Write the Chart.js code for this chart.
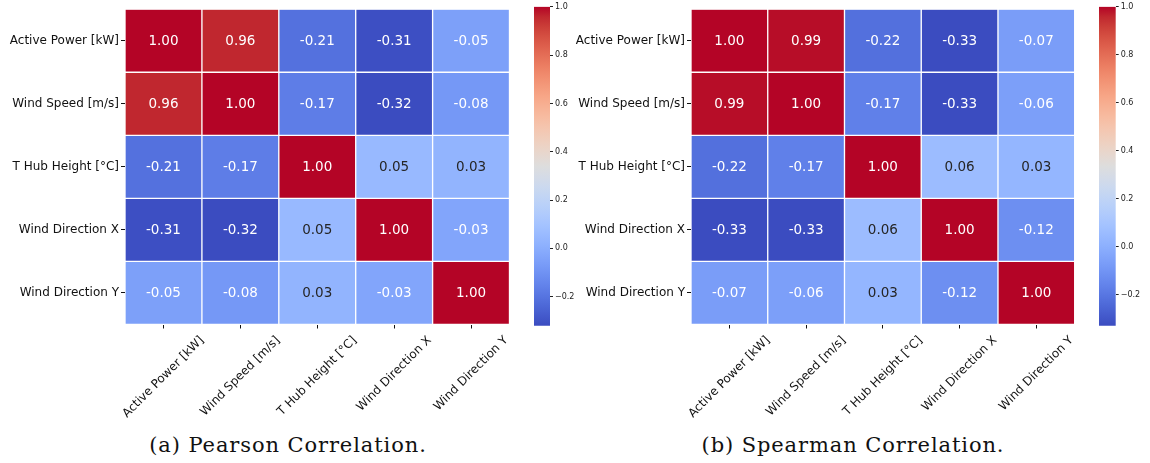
<!DOCTYPE html>
<html>
<head>
<meta charset="utf-8">
<script src="https://cdn.jsdelivr.net/npm/chart.js@4.4.1/dist/chart.umd.min.js"></script>
<style>
  html, body { margin: 0; padding: 0; background: #fff; }
  #wrap { position: relative; width: 1150px; height: 463px; overflow: hidden; }
  canvas { position: absolute; top: 0; }
  .caption {
    position: absolute; top: 435px; transform: translateX(-50%);
    font-family: "DejaVu Serif", serif; font-size: 21px; line-height: 21px;
    letter-spacing: 0.9px; color: #111; white-space: nowrap;
  }
</style>
</head>
<body>
<div id="wrap">
  <canvas id="heatA" width="520" height="420" style="left:0"></canvas>
  <canvas id="barA" width="60" height="340" style="left:520px"></canvas>
  <canvas id="heatB" width="520" height="420" style="left:566px"></canvas>
  <canvas id="barB" width="60" height="340" style="left:1085px"></canvas>
  <div class="caption" style="left:288px">(a) Pearson Correlation.</div>
  <div class="caption" style="left:853px">(b) Spearman Correlation.</div>
</div>
<script>
const VARS = ["Active Power [kW]", "Wind Speed [m/s]", "T Hub Height [°C]", "Wind Direction X", "Wind Direction Y"];

const PEARSON = [
  [1.00, 0.96, -0.21, -0.31, -0.05],
  [0.96, 1.00, -0.17, -0.32, -0.08],
  [-0.21, -0.17, 1.00, 0.05, 0.03],
  [-0.31, -0.32, 0.05, 1.00, -0.03],
  [-0.05, -0.08, 0.03, -0.03, 1.00]
];

const SPEARMAN = [
  [1.00, 0.99, -0.22, -0.33, -0.07],
  [0.99, 1.00, -0.17, -0.33, -0.06],
  [-0.22, -0.17, 1.00, 0.06, 0.03],
  [-0.33, -0.33, 0.06, 1.00, -0.12],
  [-0.07, -0.06, 0.03, -0.12, 1.00]
];

const CBAR_TICKS = [-0.2, 0.0, 0.2, 0.4, 0.6, 0.8, 1.0];

// matplotlib "coolwarm", 33 evenly spaced samples
const COOLWARM = [
  [59, 76, 192], [68, 90, 204], [77, 104, 215], [87, 117, 225], [98, 130, 234],
  [108, 142, 241], [119, 154, 247], [130, 165, 251], [141, 176, 254], [152, 185, 255],
  [163, 194, 255], [174, 201, 253], [184, 208, 249], [194, 213, 244], [204, 217, 238],
  [213, 219, 230], [221, 221, 221], [229, 216, 209], [236, 211, 197], [241, 204, 185],
  [245, 196, 173], [247, 187, 160], [247, 177, 148], [247, 166, 135], [244, 154, 123],
  [241, 141, 111], [236, 127, 99], [229, 112, 88], [222, 96, 77], [213, 80, 66],
  [203, 62, 56], [192, 40, 47], [180, 4, 38]
];

Chart.defaults.font.family = "'DejaVu Sans', sans-serif";

function coolwarm(t) {
  t = Math.min(1, Math.max(0, t));
  const pos = t * (COOLWARM.length - 1);
  const k = Math.min(Math.floor(pos), COOLWARM.length - 2);
  const f = pos - k;
  return COOLWARM[k].map((c, n) => Math.round(c + (COOLWARM[k + 1][n] - c) * f));
}

function rgb(c) {
  return `rgb(${c[0]},${c[1]},${c[2]})`;
}

// same rule seaborn uses to pick annotation colour
function textColor(c) {
  const lin = c.map((v) => {
    v /= 255;
    return v <= 0.03928 ? v / 12.92 : Math.pow((v + 0.055) / 1.055, 2.4);
  });
  const lum = 0.2126 * lin[0] + 0.7152 * lin[1] + 0.0722 * lin[2];
  return lum > 0.408 ? "#262626" : "#ffffff";
}

const annotate = {
  id: "annotate",
  afterDatasetsDraw(chart) {
    const ctx = chart.ctx;
    ctx.save();
    ctx.font = "13.5px 'DejaVu Sans'";
    ctx.textAlign = "center";
    ctx.textBaseline = "middle";
    chart.data.datasets.forEach((ds, j) => {
      chart.getDatasetMeta(j).data.forEach((el, i) => {
        const p = el.getCenterPoint();
        ctx.fillStyle = textColor(ds.cellRgb[i]);
        ctx.fillText(ds.values[i].toFixed(2), p.x, p.y + 1);
      });
    });
    ctx.restore();
  }
};

// x labels rotated 45° and centred under their tick, like matplotlib
const slantLabels = {
  id: "slantLabels",
  afterDraw(chart) {
    const scale = chart.scales.x;
    const ctx = chart.ctx;
    ctx.save();
    ctx.font = "12px 'DejaVu Sans'";
    ctx.fillStyle = "#111";
    ctx.textAlign = "center";
    ctx.textBaseline = "middle";
    const top = chart.chartArea.bottom + 9;
    scale.ticks.forEach((t, k) => {
      const label = VARS[k];
      const w = ctx.measureText(label).width;
      const half = (w + 14) * Math.SQRT1_2 / 2;
      ctx.save();
      ctx.translate(scale.getPixelForValue(t.value), top + half);
      ctx.rotate(-Math.PI / 4);
      ctx.fillText(label, 0, 0);
      ctx.restore();
    });
    ctx.restore();
  }
};

function heatmap(id, matrix, padRight) {
  const flat = matrix.flat();
  const vmin = Math.min(...flat);
  const vmax = Math.max(...flat);
  const datasets = VARS.map((name, j) => {
    const cells = matrix.map((row) => coolwarm((row[j] - vmin) / (vmax - vmin)));
    return {
      label: name,
      data: VARS.map(() => [j, j + 1]),
      values: matrix.map((row) => row[j]),
      cellRgb: cells,
      backgroundColor: cells.map(rgb),
      borderColor: "#ffffff",
      borderWidth: 1,
      borderSkipped: false,
      barPercentage: 1,
      categoryPercentage: 1,
      grouped: false
    };
  });

  new Chart(document.getElementById(id), {
    type: "bar",
    data: { labels: VARS, datasets },
    plugins: [annotate, slantLabels],
    options: {
      indexAxis: "y",
      responsive: false,
      animation: false,
      events: [],
      layout: { padding: { top: 7.5, right: padRight } },
      plugins: { legend: { display: false }, tooltip: { enabled: false } },
      scales: {
        y: {
          type: "category",
          offset: true,
          afterFit: (s) => { s.width = 125; },
          border: { display: false },
          grid: { offset: false, drawOnChartArea: false, tickLength: 4, tickColor: "#111" },
          ticks: { font: { size: 12 }, color: "#111", padding: 2 }
        },
        x: {
          type: "linear",
          min: 0,
          max: VARS.length,
          afterBuildTicks: (s) => { s.ticks = VARS.map((_, j) => ({ value: j + 0.5 })); },
          afterFit: (s) => { s.height = 95.5; },
          border: { display: false },
          grid: { drawOnChartArea: false, tickLength: 4, tickColor: "#111" },
          ticks: { display: false }
        }
      }
    }
  });
}

function gradient(chart) {
  const area = chart.chartArea;
  if (!area) return "#dddddd";
  const g = chart.ctx.createLinearGradient(0, area.bottom, 0, area.top);
  COOLWARM.forEach((c, k) => g.addColorStop(k / (COOLWARM.length - 1), rgb(c)));
  return g;
}

function colorbar(id, matrix, axisWidth) {
  const flat = matrix.flat();
  const vmin = Math.min(...flat);
  const vmax = Math.max(...flat);
  new Chart(document.getElementById(id), {
    type: "bar",
    data: {
      labels: [""],
      datasets: [{
        data: [[vmin, vmax]],
        backgroundColor: (c) => gradient(c.chart),
        borderWidth: 0,
        barPercentage: 1,
        categoryPercentage: 1
      }]
    },
    options: {
      responsive: false,
      animation: false,
      events: [],
      layout: { padding: { left: 14, top: 6.7, bottom: 14.3 } },
      plugins: { legend: { display: false }, tooltip: { enabled: false } },
      scales: {
        x: { display: false },
        y: {
          position: "right",
          min: vmin,
          max: vmax,
          afterBuildTicks: (s) => { s.ticks = CBAR_TICKS.map((v) => ({ value: v })); },
          afterFit: (s) => { s.width = axisWidth; },
          border: { display: false },
          grid: { drawOnChartArea: false, tickLength: 3, tickColor: "#222" },
          ticks: {
            font: { size: 8 },
            color: "#222",
            padding: 2,
            callback: (v) => v.toFixed(1).replace("-", "\u2212")
          }
        }
      }
    }
  });
}

heatmap("heatA", PEARSON, 10.5);
colorbar("barA", PEARSON, 30);
heatmap("heatB", SPEARMAN, 11.3);
colorbar("barB", SPEARMAN, 29.3);
</script>
</body>
</html>
